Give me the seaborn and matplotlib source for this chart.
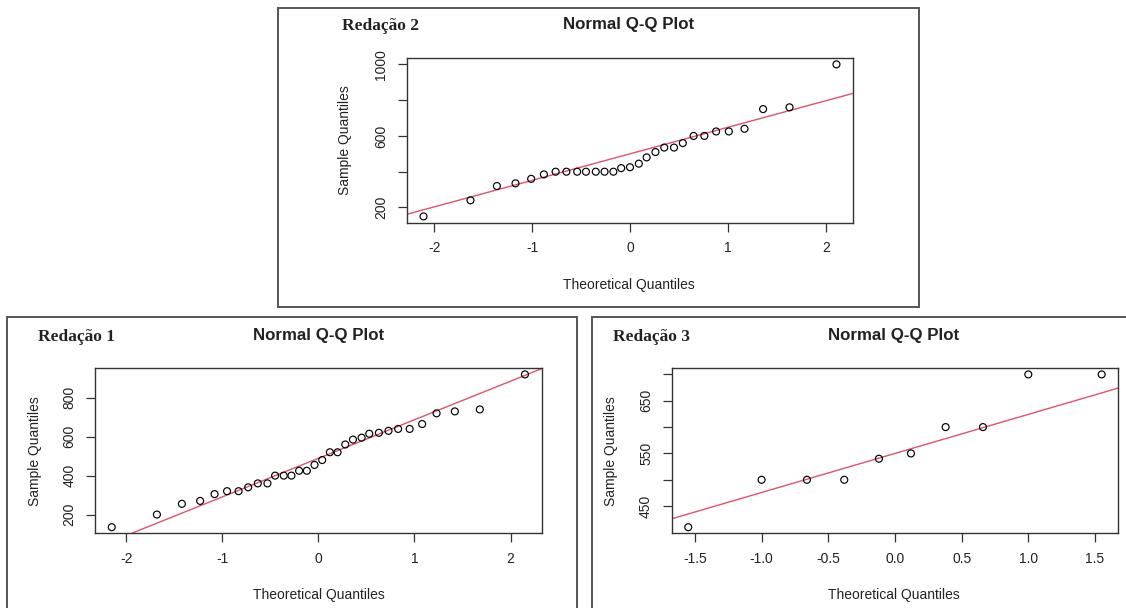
import numpy as np
import pandas as pd
import matplotlib
matplotlib.use("Agg")
import matplotlib.pyplot as plt
from matplotlib.patches import Rectangle
import seaborn as sns

RED1_THEOR = [-2.15, -1.68, -1.42, -1.23, -1.08, -0.95, -0.83, -0.73, -0.63, -0.53, -0.45,
              -0.36, -0.28, -0.20, -0.12, -0.04, 0.04, 0.12, 0.20, 0.28, 0.36, 0.45,
              0.53, 0.63, 0.73, 0.83, 0.95, 1.08, 1.23, 1.42, 1.68, 2.15]
RED1_SAMPLE = [135, 200, 255, 270, 305, 320, 320, 340, 360, 360, 400, 400, 400, 425, 425,
               455, 480, 520, 520, 560, 585, 595, 615, 620, 630, 640, 640, 665, 720, 730,
               740, 920]

RED2_THEOR = [-2.11, -1.63, -1.36, -1.17, -1.01, -0.88, -0.76, -0.65, -0.54, -0.45, -0.35,
              -0.26, -0.17, -0.09, 0.00, 0.09, 0.17, 0.26, 0.35, 0.45, 0.54, 0.65, 0.76,
              0.88, 1.01, 1.17, 1.36, 1.63, 2.11]
RED2_SAMPLE = [150, 240, 320, 335, 360, 385, 400, 400, 400, 400, 400, 400, 400, 420, 425,
               445, 480, 510, 535, 535, 560, 600, 600, 625, 625, 640, 750, 760, 1000]

RED3_THEOR = [-1.55, -1.00, -0.66, -0.38, -0.12, 0.12, 0.38, 0.66, 1.00, 1.55]
RED3_SAMPLE = [410, 500, 500, 500, 540, 550, 600, 600, 700, 700]

RED1_XTICKS = [-2, -1, 0, 1, 2]
RED1_YTICKS = [200, 400, 600, 800]
RED1_YLABELS = ["200", "400", "600", "800"]
RED2_XTICKS = [-2, -1, 0, 1, 2]
RED2_YTICKS = [200, 400, 600, 800, 1000]
RED2_YLABELS = ["200", "", "600", "", "1000"]
RED3_XTICKS = [-1.5, -1.0, -0.5, 0.0, 0.5, 1.0, 1.5]
RED3_YTICKS = [450, 500, 550, 600, 650, 700]
RED3_YLABELS = ["450", "", "550", "", "650", ""]

QUARTILE_Z = 0.6745  # qnorm(0.75), used by qqline

W, H = 1126, 608
LINE_RED = "#DF536B"
TEXT_COL = "#222222"


def px_rect(left, top, right, bottom):
    """Pixel box -> figure-fraction [x, y, w, h]."""
    return [left / W, 1 - bottom / H, (right - left) / W, (bottom - top) / H]


def qq_panel(fig, box, theor, sample, xticks, yticks, ylabels, xfmt):
    ax = fig.add_axes(px_rect(*box))
    df = pd.DataFrame({"theoretical": theor, "sample": sample})
    sns.scatterplot(data=df, x="theoretical", y="sample", ax=ax, marker="o", s=25,
                    edgecolor="black", linewidth=0.85, zorder=3)
    ax.collections[0].set_facecolor("none")

    # qqline: through first and third quartiles
    q1, q3 = np.percentile(df["sample"], [25, 75])
    slope = (q3 - q1) / (2 * QUARTILE_Z)
    intercept = (q1 + q3) / 2
    ax.axline((0, intercept), slope=slope, color=LINE_RED, lw=1.0, zorder=2)

    # R-style 4% axis expansion
    xr = df["theoretical"].max() - df["theoretical"].min()
    yr = df["sample"].max() - df["sample"].min()
    ax.set_xlim(df["theoretical"].min() - 0.04 * xr, df["theoretical"].max() + 0.04 * xr)
    ax.set_ylim(df["sample"].min() - 0.04 * yr, df["sample"].max() + 0.04 * yr)

    ax.set_xticks(xticks)
    ax.set_xticklabels([xfmt.format(t) for t in xticks])
    ax.set_yticks(yticks)
    ax.set_yticklabels(ylabels, rotation=90, va="center")
    ax.tick_params(axis="both", direction="out", length=6.5, width=0.9, pad=7,
                   labelsize=10, colors="#333333", labelcolor=TEXT_COL,
                   left=True, bottom=True)
    ax.set_xlabel("")
    ax.set_ylabel("")
    for sp in ax.spines.values():
        sp.set_visible(True)
        sp.set_color("#333333")
        sp.set_linewidth(1.0)
    ax.set_facecolor("white")
    return ax


def fig_text(fig, x, y, s, **kw):
    fig.text(x / W, 1 - y / H, s, color=TEXT_COL, **kw)


def panel(fig, frame, box, title_x, title_y, tag_x, tag, ylab_x, xlab_y, data):
    fx0, fy0, fx1, fy1 = frame
    fig.add_artist(Rectangle((fx0 / W, 1 - fy1 / H), (fx1 - fx0) / W, (fy1 - fy0) / H,
                             transform=fig.transFigure, fill=False,
                             edgecolor="#555555", lw=1.4, zorder=0))
    ax = qq_panel(fig, box, *data)
    ycenter = (box[1] + box[3]) / 2
    fig_text(fig, title_x, title_y, "Normal Q-Q Plot", fontsize=12.2, fontweight="bold",
             ha="center", va="center")
    fig_text(fig, tag_x, title_y + 1.5, tag, fontsize=12.5, fontweight="bold",
             family=["Liberation Serif", "DejaVu Serif"], ha="left", va="center")
    fig_text(fig, title_x, xlab_y, "Theoretical Quantiles", fontsize=10,
             ha="center", va="center")
    fig_text(fig, ylab_x, ycenter, "Sample Quantiles", fontsize=10, rotation=90,
             ha="center", va="center")
    return ax


sns.set_theme(style="white")
plt.rcParams["font.family"] = ["Liberation Sans", "DejaVu Sans"]
plt.rcParams["axes.unicode_minus"] = False

fig = plt.figure(figsize=(W / 100, H / 100), dpi=100)
fig.patch.set_facecolor("white")

# Redação 2 (top)
panel(fig, (277.5, 8, 919, 306.5), (407, 58.3, 853, 222.5), 629, 24.5, 342,
      "Redação 2", 345, 285,
      (RED2_THEOR, RED2_SAMPLE, RED2_XTICKS, RED2_YTICKS, RED2_YLABELS, "{:g}"))

# Redação 1 (bottom left)
panel(fig, (7, 317, 577, 620), (95.2, 368.3, 541.5, 533.3), 318.5, 335.5, 38.5,
      "Redação 1", 35, 595,
      (RED1_THEOR, RED1_SAMPLE, RED1_XTICKS, RED1_YTICKS, RED1_YLABELS, "{:g}"))

# Redação 3 (bottom right)
panel(fig, (592, 317, 1140, 620), (671.7, 368.3, 1118.2, 533.3), 894, 335.5, 613,
      "Redação 3", 611, 595,
      (RED3_THEOR, RED3_SAMPLE, RED3_XTICKS, RED3_YTICKS, RED3_YLABELS, "{:.1f}"))

fig.savefig("out.png", dpi=100)
